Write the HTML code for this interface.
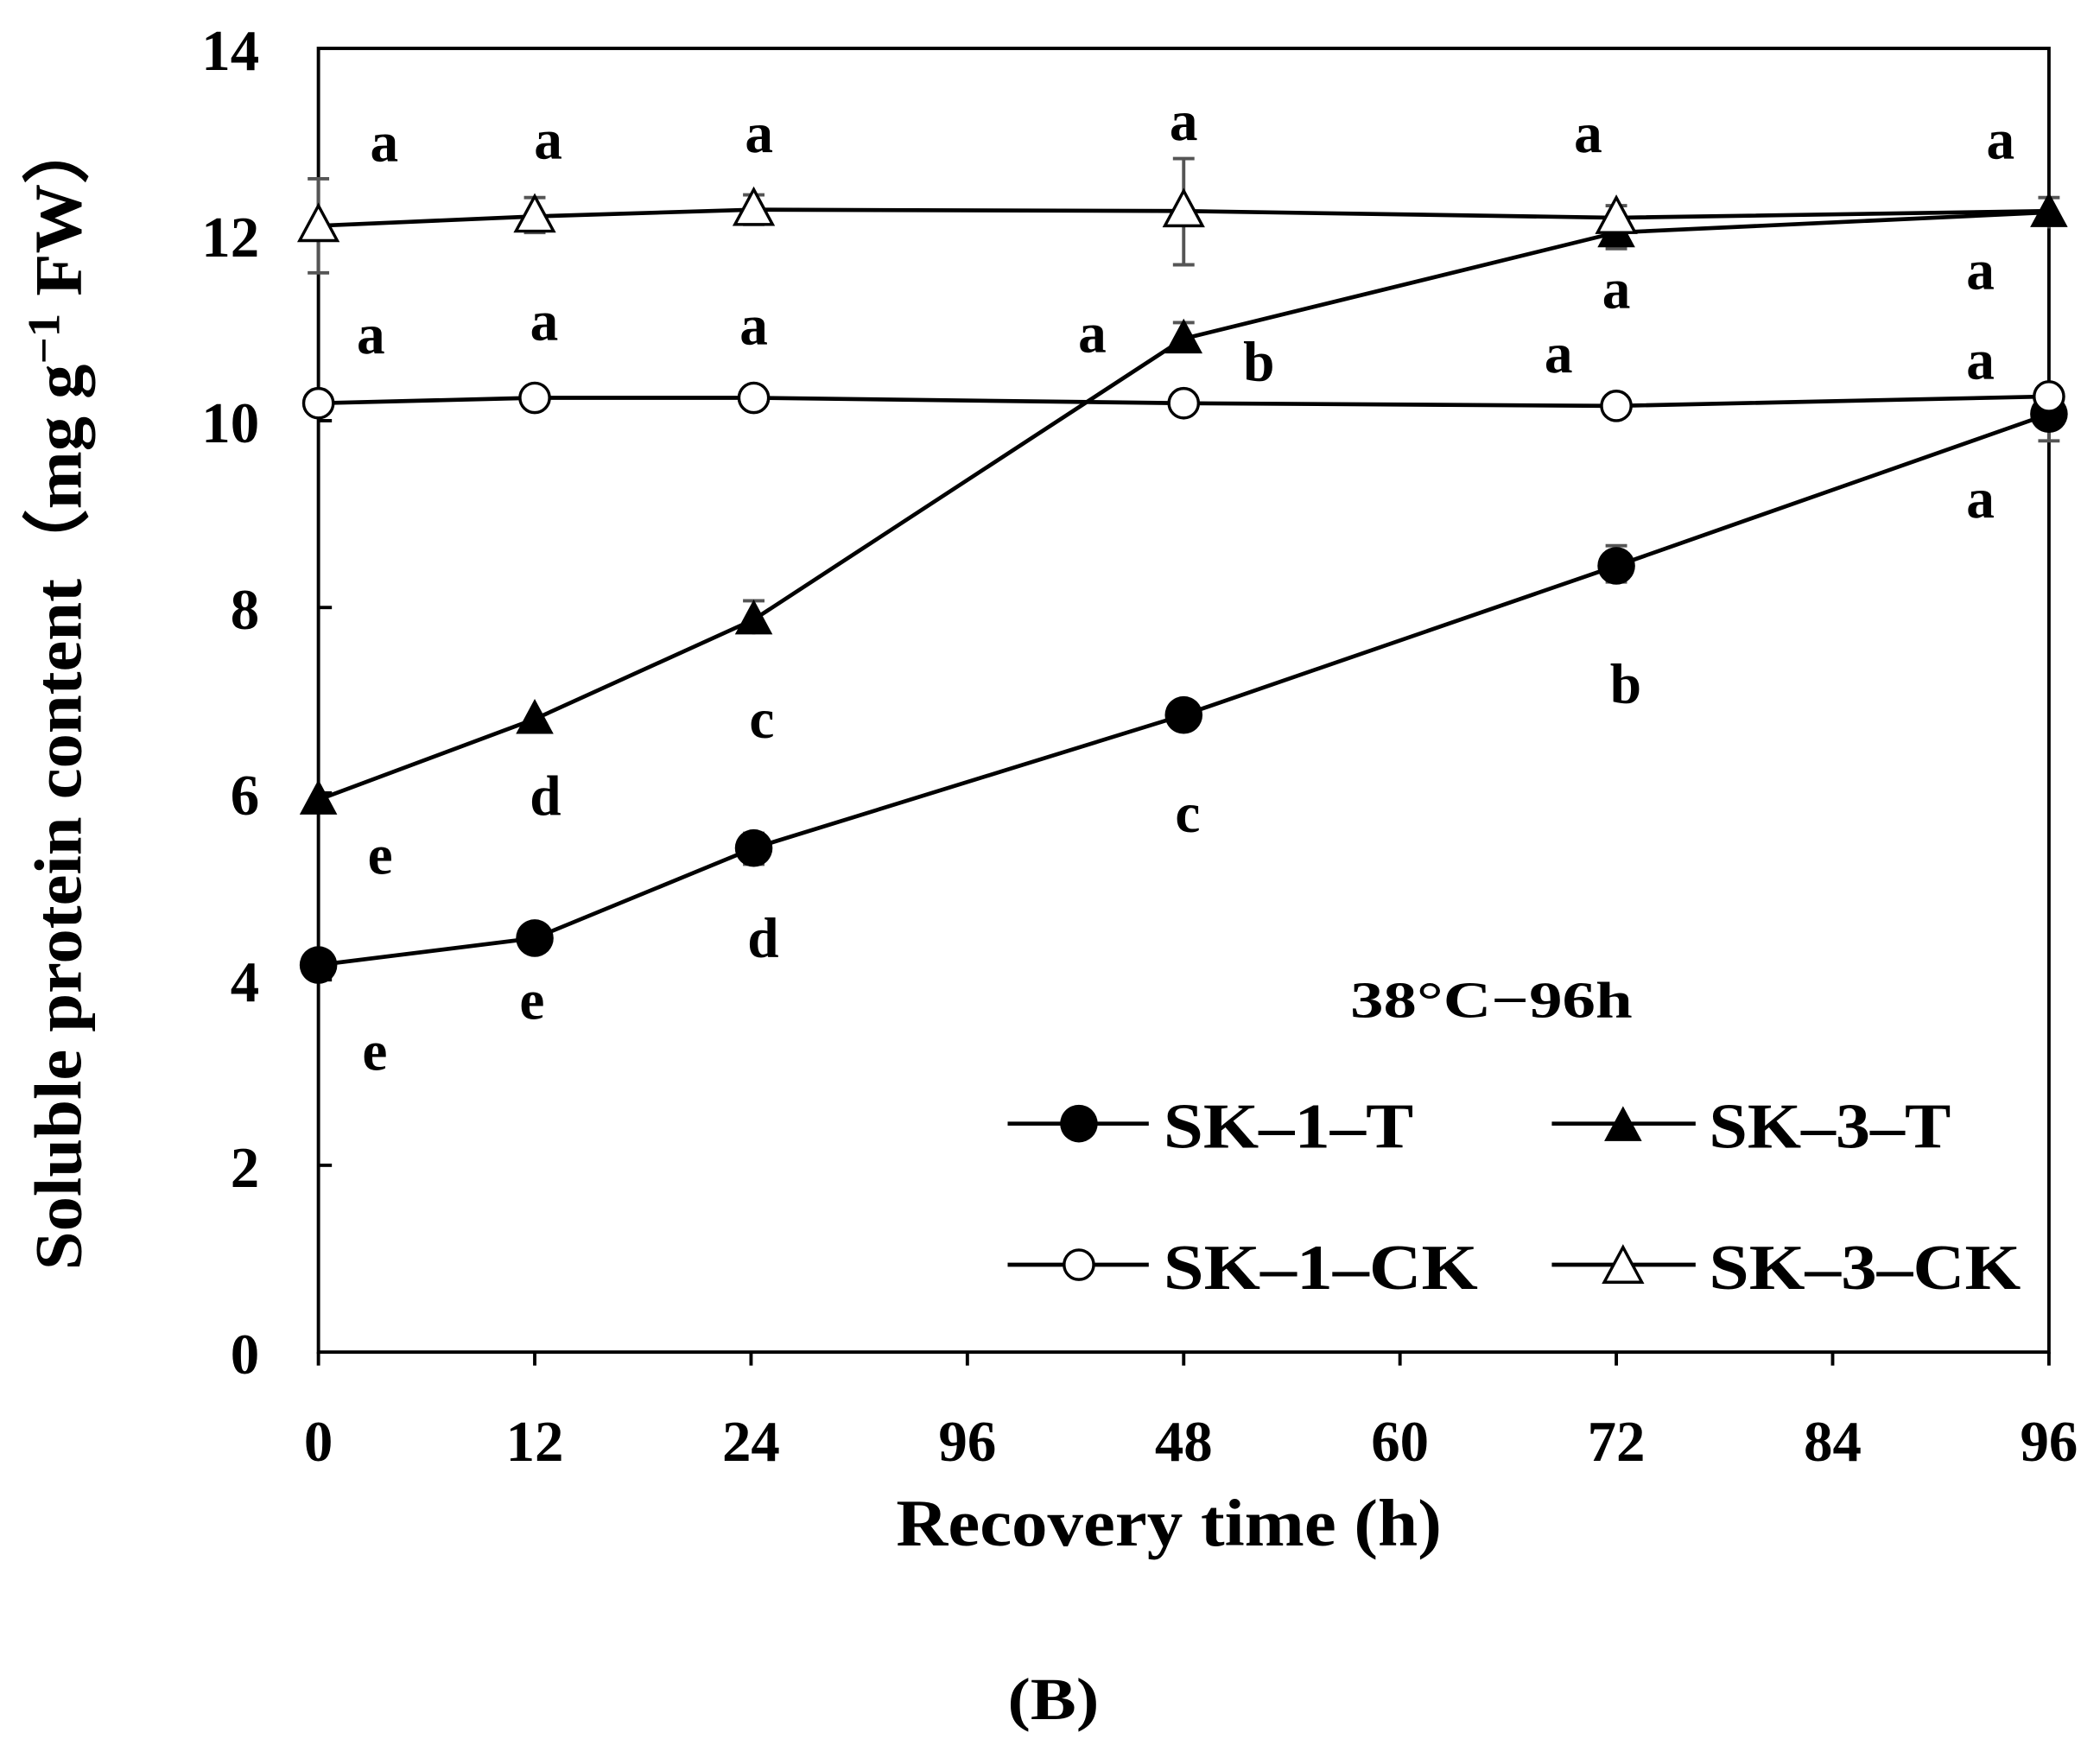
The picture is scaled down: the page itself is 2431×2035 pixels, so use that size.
<!DOCTYPE html>
<html><head><style>body{margin:0;background:#fff}svg{display:block}text{font-family:"Liberation Serif",serif;font-weight:bold;fill:#000}</style></head>
<body>
<svg width="2431" height="2035" viewBox="0 0 1563 1308" preserveAspectRatio="none">
<defs>
<path id="tri" d="M0,-15 L14,11 L-14,11 Z"/>
</defs>
<rect x="237" y="36" width="1288" height="970" fill="none" stroke="#000" stroke-width="2.5"/>
<g stroke="#000" stroke-width="2.5">
<line x1="237" y1="1006" x2="237" y2="1016"/><line x1="398" y1="1006" x2="398" y2="1016"/><line x1="559" y1="1006" x2="559" y2="1016"/><line x1="720" y1="1006" x2="720" y2="1016"/><line x1="881" y1="1006" x2="881" y2="1016"/><line x1="1042" y1="1006" x2="1042" y2="1016"/><line x1="1203" y1="1006" x2="1203" y2="1016"/><line x1="1364" y1="1006" x2="1364" y2="1016"/><line x1="1525" y1="1006" x2="1525" y2="1016"/>
<line x1="237" y1="867" x2="247" y2="867"/><line x1="237" y1="729" x2="247" y2="729"/><line x1="237" y1="590" x2="247" y2="590"/><line x1="237" y1="452" x2="247" y2="452"/><line x1="237" y1="313" x2="247" y2="313"/><line x1="237" y1="175" x2="247" y2="175"/>
</g>
<g font-size="43" text-anchor="end">
<text x="193" y="1022">0</text><text x="193" y="883">2</text><text x="193" y="745">4</text><text x="193" y="606">6</text><text x="193" y="468">8</text><text x="193" y="329">10</text><text x="193" y="191">12</text><text x="193" y="52">14</text>
</g>
<g font-size="43" text-anchor="middle">
<text x="237" y="1087">0</text><text x="398" y="1087">12</text><text x="559" y="1087">24</text><text x="720" y="1087">96</text><text x="881" y="1087">48</text><text x="1042" y="1087">60</text><text x="1203" y="1087">72</text><text x="1364" y="1087">84</text><text x="1525" y="1087">96</text>
</g>
<text x="667" y="1150" font-size="50" textLength="406" lengthAdjust="spacingAndGlyphs">Recovery time (h)</text>
<text transform="translate(60,945) rotate(-90)" font-size="50" textLength="860" lengthAdjust="spacingAndGlyphs">Soluble protein content（mg g<tspan font-size="34" dy="-16">−1</tspan><tspan dy="16"> FW）</tspan></text>
<text x="750" y="1279" font-size="44" textLength="68" lengthAdjust="spacingAndGlyphs">(B)</text>
<text x="1005" y="757" font-size="38" textLength="210" lengthAdjust="spacingAndGlyphs">38°C−96h</text>
<g stroke="#555" stroke-width="2.5" fill="none">
<path d="M237,133V203M229,133H245M229,203H245"/>
<path d="M881,118V197M873,118H889M873,197H889"/>
<path d="M398,147V173M390,147H406M390,173H406"/>
<path d="M561,145V167M553,145H569M553,167H569"/>
<path d="M1525,147V170M1517,147H1533"/>
<path d="M1203,153V185M1195,153H1211M1195,185H1211"/>
<path d="M1525,296V328M1517,328H1533"/>
<path d="M1203,406V433M1195,406H1211M1195,433H1211"/>
<path d="M561,447V472M553,447H569"/>
<path d="M881,240V262M873,240H889"/>
<path d="M561,620V643M553,620H569M553,643H569"/>
</g>
<g fill="none" stroke="#000" stroke-width="3">
<polyline points="237,718 398,698 561,631 881,532 1203,421 1525,308"/>
<polyline points="237,595 398,535 561,461 881,252 1203,173 1525,158"/>
<polyline points="237,300 398,296 561,296 881,300 1203,302 1525,295"/>
<polyline points="237,168 398,161 561,156 881,157 1203,162 1525,157"/>
</g>
<g fill="#000">
<circle cx="237" cy="718" r="14"/><circle cx="398" cy="698" r="14"/><circle cx="561" cy="631" r="14"/><circle cx="881" cy="532" r="14"/><circle cx="1203" cy="421" r="14"/><circle cx="1525" cy="308" r="14"/>
<use href="#tri" x="237" y="595"/><use href="#tri" x="398" y="535"/><use href="#tri" x="561" y="461"/><use href="#tri" x="881" y="252"/><use href="#tri" x="1203" y="173"/><use href="#tri" x="1525" y="158"/>
</g>
<g fill="#fff" stroke="#000" stroke-width="2.2">
<circle cx="237" cy="300" r="11"/><circle cx="398" cy="296" r="11"/><circle cx="561" cy="296" r="11"/><circle cx="881" cy="300" r="11"/><circle cx="1203" cy="302" r="11"/><circle cx="1525" cy="295" r="11"/>
<use href="#tri" x="237" y="168"/><use href="#tri" x="398" y="161"/><use href="#tri" x="561" y="156"/><use href="#tri" x="881" y="157"/><use href="#tri" x="1203" y="162"/>
</g>
<g font-size="42" text-anchor="middle">
<text x="286" y="120">a</text><text x="408" y="118">a</text><text x="565" y="113">a</text><text x="881" y="104">a</text><text x="1182" y="113">a</text><text x="1489" y="118">a</text>
<text x="276" y="263">a</text><text x="405" y="253">a</text><text x="561" y="256">a</text><text x="813" y="262">a</text><text x="937" y="283">b</text><text x="1160" y="277">a</text><text x="1474" y="282">a</text>
<text x="1203" y="229">a</text><text x="1474" y="215">a</text><text x="1474" y="385">a</text>
<text x="567" y="549">c</text><text x="1210" y="523">b</text><text x="406" y="606">d</text><text x="283" y="650">e</text><text x="884" y="619">c</text>
<text x="568" y="712">d</text><text x="396" y="758">e</text><text x="279" y="796">e</text>
</g>
<g stroke="#000" stroke-width="3">
<line x1="750" y1="836" x2="855" y2="836"/><line x1="1155" y1="836" x2="1262" y2="836"/>
<line x1="750" y1="941" x2="855" y2="941"/><line x1="1155" y1="941" x2="1262" y2="941"/>
</g>
<circle cx="803" cy="836" r="14" fill="#000"/>
<use href="#tri" x="1208" y="838" fill="#000"/>
<circle cx="803" cy="941" r="11" fill="#fff" stroke="#000" stroke-width="2.2"/>
<use href="#tri" x="1208" y="943" fill="#fff" stroke="#000" stroke-width="2.2"/>
<g font-size="48">
<text x="866" y="854" textLength="186" lengthAdjust="spacingAndGlyphs">SK–1–T</text><text x="1272" y="854" textLength="180" lengthAdjust="spacingAndGlyphs">SK–3–T</text>
<text x="866" y="959" textLength="234" lengthAdjust="spacingAndGlyphs">SK–1–CK</text><text x="1272" y="959" textLength="232" lengthAdjust="spacingAndGlyphs">SK–3–CK</text>
</g>
</svg>
</body></html>
